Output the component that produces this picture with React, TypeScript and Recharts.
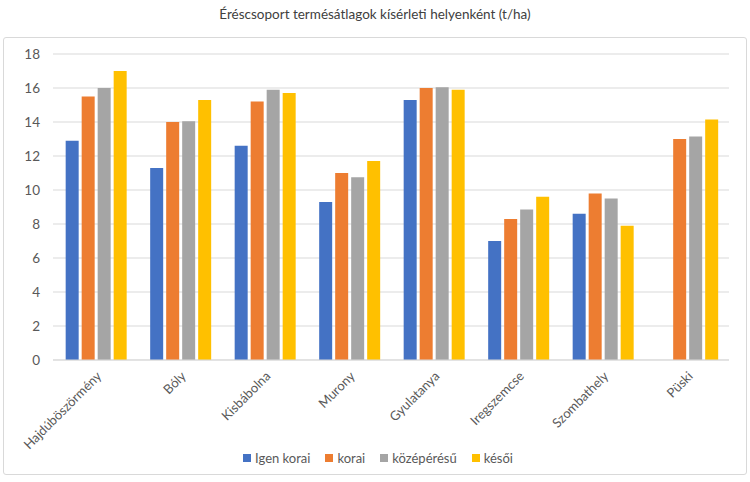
import React from "react";
import { BarChart, Bar, XAxis, YAxis, CartesianGrid, Legend } from "recharts";

const categories = ["Hajdúböszörmény", "Bóly", "Kisbábolna", "Murony", "Gyulatanya", "Iregszemcse", "Szombathely", "Püski"];
const igenKorai: (number | null)[] = [12.9, 11.3, 12.6, 9.3, 15.3, 7.0, 8.6, null];
const korai = [15.5, 14.0, 15.2, 11.0, 16.0, 8.3, 9.8, 13.0];
const kozeperesu = [16.0, 14.05, 15.9, 10.75, 16.05, 8.85, 9.5, 13.15];
const kesoi = [17.0, 15.3, 15.7, 11.7, 15.9, 9.6, 7.9, 14.15];
const yTicks = [0, 2, 4, 6, 8, 10, 12, 14, 16, 18];

const seriesNames = ["Igen korai", "korai", "középérésű", "késői"];
const colors = ["#4472C4", "#ED7D31", "#A5A5A5", "#FFC000"];

const data = categories.map((c, i) => ({
  name: c,
  s0: igenKorai[i],
  s1: korai[i],
  s2: kozeperesu[i],
  s3: kesoi[i],
}));

const FONT = "Lato, 'Noto Sans', sans-serif";

const XTick = (props: any) => {
  const { x, y, payload } = props;
  const ax = x + 7;
  const ay = y + 9;
  return (
    <text
      x={ax}
      y={ay}
      transform={`rotate(-45, ${ax}, ${ay})`}
      textAnchor="end"
      fill="#595959"
      fontSize={13}
      fontFamily={FONT}
    >
      {payload.value}
    </text>
  );
};

const LegendContent = () => (
  <div style={{ display: "flex", justifyContent: "center", alignItems: "center", fontFamily: FONT, fontSize: 13, color: "#595959", paddingLeft: 14, paddingTop: 2 }}>
    {seriesNames.map((n, i) => (
      <div key={n} style={{ display: "flex", alignItems: "center", marginRight: i < 3 ? 15 : 0 }}>
        <span style={{ display: "inline-block", width: 8, height: 8, background: colors[i], marginRight: 4 }} />
        <span>{n}</span>
      </div>
    ))}
  </div>
);

export default function App() {
  return (
    <div style={{ position: "absolute", left: 0, top: 0, width: 750, height: 482, background: "#fff", fontFamily: FONT }}>
      <div style={{ position: "absolute", top: 6, left: 0, width: 750, textAlign: "center", fontSize: 13.5, color: "#404040" }}>
        Éréscsoport termésátlagok kísérleti helyenként (t/ha)
      </div>
      <div style={{ position: "absolute", left: 3, top: 37, width: 744, height: 438, border: "1px solid #d9d9d9", borderRadius: 3, boxSizing: "border-box" }}>
        <BarChart
          width={742}
          height={436}
          data={data}
          margin={{ top: 16, right: 17, left: 9, bottom: 0 }}
          barCategoryGap="15%"
          barGap={3}
        >
          <CartesianGrid vertical={false} stroke="#d9d9d9" />
          <XAxis
            dataKey="name"
            interval={0}
            height={88}
            tick={<XTick />}
            tickLine={false}
            axisLine={{ stroke: "#d9d9d9" }}
          />
          <YAxis
            domain={[0, 18]}
            ticks={yTicks}
            width={40}
            tickLine={false}
            axisLine={false}
            tick={{ fill: "#595959", fontSize: 13.5, fontFamily: FONT }}
            tickMargin={7}
          />
          <Legend verticalAlign="bottom" height={26} content={<LegendContent />} />
          {seriesNames.map((n, i) => (
            <Bar key={n} dataKey={`s${i}`} name={n} fill={colors[i]} isAnimationActive={false} />
          ))}
        </BarChart>
      </div>
    </div>
  );
}
